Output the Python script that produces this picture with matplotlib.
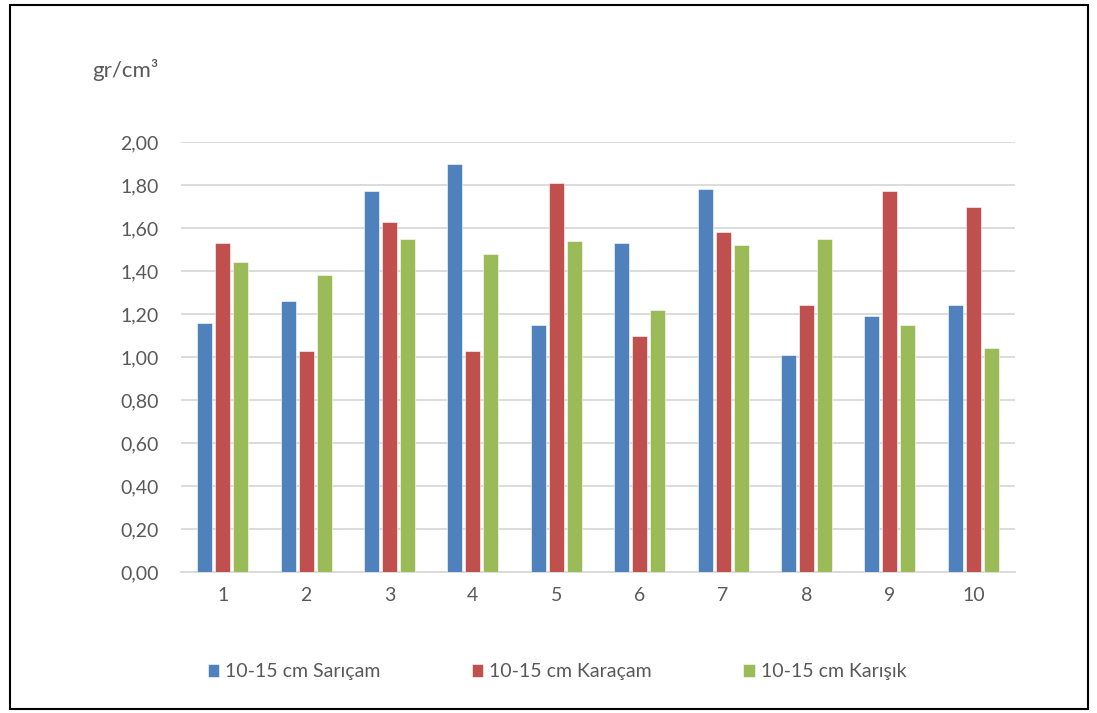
import matplotlib
matplotlib.use("Agg")
import matplotlib.pyplot as plt
import numpy as np
from matplotlib.patches import Rectangle

categories = ["1", "2", "3", "4", "5", "6", "7", "8", "9", "10"]
saricam = [1.16, 1.26, 1.77, 1.90, 1.15, 1.53, 1.78, 1.01, 1.19, 1.24]
karacam = [1.53, 1.03, 1.63, 1.03, 1.81, 1.10, 1.58, 1.24, 1.77, 1.70]
karisik = [1.44, 1.38, 1.55, 1.48, 1.54, 1.22, 1.52, 1.55, 1.15, 1.04]
series_names = ["10-15 cm Sarıçam", "10-15 cm Karaçam", "10-15 cm Karışık"]
yticks = [0.0, 0.2, 0.4, 0.6, 0.8, 1.0, 1.2, 1.4, 1.6, 1.8, 2.0]

plt.rcParams["font.family"] = ["Lato", "DejaVu Sans"]
TXT = "#595959"
COLS = ["#4F81BD", "#C0504D", "#9BBB59"]

fig = plt.figure(figsize=(10.97, 7.13), dpi=100)
ax = fig.add_axes([181/1097, 1-572/713, (1015-181)/1097, (572-142)/713])

x = np.arange(len(categories))
w = 0.18
off = 0.215
handles = []
for k, (vals, c) in enumerate(zip([saricam, karacam, karisik], COLS)):
    b = ax.bar(x + (k-1)*off, vals, w, color=c, edgecolor="white", linewidth=0.4, zorder=3, label=series_names[k])
    handles.append(b)

ax.set_ylim(0, 2.0)
ax.set_xlim(-0.5, len(categories)-0.5)
ax.set_yticks(yticks)
ax.set_yticklabels([f"{v:.2f}".replace(".", ",") for v in yticks], fontsize=14, color=TXT)
ax.set_xticks(x)
ax.set_xticklabels(categories, fontsize=14, color=TXT)
ax.tick_params(length=0, pad=16)
ax.tick_params(axis="x", pad=11)
ax.grid(axis="y", color="#D9D9D9", lw=1.3, zorder=0)
for sp in ("top", "right", "left"):
    ax.spines[sp].set_visible(False)
ax.spines["bottom"].set_color("#D9D9D9")
ax.spines["bottom"].set_linewidth(1.3)

fig.text(92/1097, 1-70/713, "gr/cm³", fontsize=16, color=TXT, va="center", ha="left")

fig.legend(handles=handles, loc="center", bbox_to_anchor=(557/1097, 1-672/713), ncol=3,
           frameon=False, fontsize=14, labelcolor=TXT, handlelength=0.6, handleheight=0.6,
           handletextpad=0.3, columnspacing=4.7)

fig.patches.append(Rectangle((10/1097, 4/713), 1078/1097, 704/713, transform=fig.transFigure,
                             fill=False, edgecolor="black", lw=1.5))

fig.savefig("out.png", dpi=100)
